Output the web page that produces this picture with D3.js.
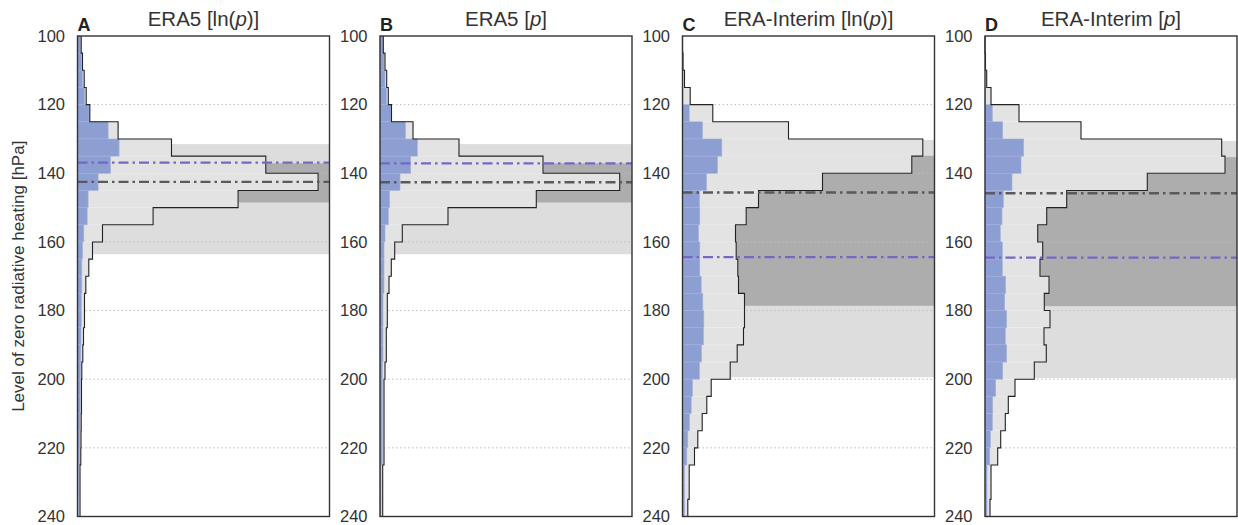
<!DOCTYPE html>
<html>
<head>
<meta charset="utf-8">
<script src="https://cdn.jsdelivr.net/npm/d3@7"></script>
<style>
  body { margin: 0; background: #fff; }
  svg { display: block; font-family: "Liberation Sans", Arial, sans-serif; }
</style>
</head>
<body>
<svg id="chart" width="1238" height="525"></svg>
<script>
// bin edges (hPa), 5 hPa bins from 100 to 240
const binStarts = d3.range(100, 240, 5);
const yTicks = [100, 120, 140, 160, 180, 200, 220, 240];

const panelLetters = ['A', 'B', 'C', 'D'];
const titleNames = ['ERA5', 'ERA5', 'ERA-Interim', 'ERA-Interim'];
const titleVerticals = ['ln', '', 'ln', ''];

// histogram of all levels (grey, outlined), arbitrary units
const histA = [3.7, 5, 6.7, 8.7, 12.3, 40.6, 94, 188.3, 240.6, 160.6, 75.6, 25, 15, 11.3, 8.3, 7, 7, 6, 5.3, 4.3, 4, 4, 3.7, 3.5, 3.3, 2.5, 2.5, 2.5];
const histB = [3.3, 5, 6.7, 8.3, 11.5, 33, 79, 163, 239.7, 156.3, 68, 22.3, 14.7, 11.3, 9, 7.3, 7.3, 6.3, 6.3, 5, 4, 4, 4, 4, 4, 2.7, 2.7, 2.7];
const histC = [0, 0.5, 2, 7.7, 30.3, 106, 240.3, 229.3, 140, 76, 63.7, 53, 53.7, 55.3, 56, 62, 62, 61, 54.7, 47.7, 28.7, 24.3, 19.7, 15.3, 12, 6.7, 6.7, 5.3];
const histD = [0, 0.5, 1.7, 6, 34, 96, 236.7, 240, 162.3, 81.7, 61.7, 52.7, 57.7, 55, 64, 59.3, 65, 59, 61.3, 49.3, 30, 23.3, 20.3, 15.7, 12.7, 6, 6, 5];

// subset histogram (blue)
const blueA = [3, 4, 5, 7, 11.5, 30.6, 41.6, 33, 20.6, 10.6, 9.7, 6.3, 5, 4.3, 4.3, 3.7, 3.7, 3.5, 3.3, 3, 2.7, 2.7, 2.5, 2.3, 2, 1, 1, 0.8];
const blueB = [3, 4, 5, 6.5, 11, 25.5, 37.3, 30.7, 20, 9.7, 8.3, 5, 4, 4, 4, 3, 3, 3, 3, 2.3, 2.3, 2.3, 2.3, 2.3, 2.3, 1, 1, 1];
const blueC = [0, 0, 0, 0.5, 6.7, 20, 39.3, 35, 24, 17, 17.3, 16, 17.3, 17.3, 18.7, 20.3, 21.3, 21, 19, 17, 10, 8.7, 7, 5.3, 4.3, 2, 2, 2];
const blueD = [0, 0, 0, 0.5, 7.3, 17.7, 38.7, 36, 27, 18.3, 17, 15.3, 17.3, 17.3, 20.7, 19.7, 21.7, 20.3, 21.7, 17.7, 10.7, 7.7, 7.3, 5.3, 4.7, 2, 2, 2];

// ranges (hPa): outer band, inner band, and the two mean levels
const outerRange = [[131.5, 163.6], [131.5, 163.6], [130.3, 199.4], [130.6, 199.7]];
const innerRange = [[137.1, 148.5], [137.1, 148.5], [134.9, 178.6], [135.3, 178.7]];
const greyLevel = [142.5, 142.6, 145.6, 145.8];
const blueLevel = [136.9, 137.1, 164.4, 164.6];

const hists = [histA, histB, histC, histD];
const blues = [blueA, blueB, blueC, blueD];

const svg = d3.select('#chart');
const plotW = 252, pitch = 302.5, left0 = 77.5;
const yTop = 36, yBottom = 516.5;

const y = d3.scaleLinear().domain([100, 240]).range([yTop, yBottom]);

svg.append('text')
  .attr('transform', `translate(24,${(yTop + yBottom) / 2 + 0}) rotate(-90)`)
  .attr('text-anchor', 'middle')
  .attr('font-size', 17)
  .attr('fill', '#333')
  .text('Level of zero radiative heating [hPa]');

for (let i = 0; i < 4; i++) {
  const x0 = left0 + i * pitch;
  const x = d3.scaleLinear().domain([0, 252]).range([x0, x0 + plotW]);
  const g = svg.append('g');
  const hist = hists[i], blue = blues[i];

  // bands
  g.append('rect')
    .attr('x', x0).attr('width', plotW)
    .attr('y', y(outerRange[i][0]))
    .attr('height', y(outerRange[i][1]) - y(outerRange[i][0]))
    .attr('fill', '#dddddd');
  g.append('rect')
    .attr('x', x0).attr('width', plotW)
    .attr('y', y(innerRange[i][0]))
    .attr('height', y(innerRange[i][1]) - y(innerRange[i][0]))
    .attr('fill', '#adadad');

  // dotted grid
  g.selectAll('.grid')
    .data(yTicks.slice(1, -1))
    .enter().append('line')
    .attr('x1', x0).attr('x2', x0 + plotW)
    .attr('y1', d => y(d)).attr('y2', d => y(d))
    .attr('stroke', '#bdbdbd')
    .attr('stroke-width', 1)
    .attr('stroke-dasharray', '1.5,2.5');

  // grey histogram bars
  g.selectAll('.hbar')
    .data(binStarts)
    .enter().append('rect')
    .attr('x', x0)
    .attr('y', d => y(d))
    .attr('width', (d, j) => x(hist[j]) - x0)
    .attr('height', d => y(d + 5) - y(d))
    .attr('fill', '#e3e3e3')
    .attr('stroke', '#ededed')
    .attr('stroke-width', 0.6);

  // blue bars
  g.selectAll('.bbar')
    .data(binStarts)
    .enter().append('rect')
    .attr('x', x0)
    .attr('y', d => y(d))
    .attr('width', (d, j) => x(blue[j]) - x0)
    .attr('height', d => y(d + 5) - y(d))
    .attr('fill', '#8d9ed3')
    .attr('stroke', '#a3b1dc')
    .attr('stroke-width', 0.6);

  // step outline
  const pts = [];
  binStarts.forEach((b, j) => {
    pts.push([hist[j], b]);
    pts.push([hist[j], b + 5]);
  });
  const line = d3.line().x(d => x(d[0])).y(d => y(d[1]));
  g.append('path')
    .attr('d', line(pts))
    .attr('fill', 'none')
    .attr('stroke', '#222')
    .attr('stroke-width', 1.1);

  // mean levels
  g.append('line')
    .attr('x1', x0).attr('x2', x0 + plotW)
    .attr('y1', y(greyLevel[i])).attr('y2', y(greyLevel[i]))
    .attr('stroke', '#5a5a5a').attr('stroke-width', 2.4)
    .attr('stroke-dasharray', '10,4,2.5,4');
  g.append('line')
    .attr('x1', x0).attr('x2', x0 + plotW)
    .attr('y1', y(blueLevel[i])).attr('y2', y(blueLevel[i]))
    .attr('stroke', '#7369c4').attr('stroke-width', 2.2)
    .attr('stroke-dasharray', '10,4,2.5,4');

  // frame
  g.append('rect')
    .attr('x', x0).attr('y', yTop)
    .attr('width', plotW).attr('height', yBottom - yTop)
    .attr('fill', 'none')
    .attr('stroke', '#333')
    .attr('stroke-width', 1.4);

  // y axis labels, no tick marks
  const axis = d3.axisLeft(y).tickValues(yTicks).tickSize(0).tickPadding(12.5);
  const ax = g.append('g').attr('transform', `translate(${x0},0)`).call(axis);
  ax.select('.domain').remove();
  ax.selectAll('text')
    .attr('font-family', '"Liberation Sans", Arial, sans-serif')
    .attr('font-size', 16.5).attr('fill', '#333');

  // letter + title
  g.append('text')
    .attr('x', x0).attr('y', 31)
    .attr('font-size', 18).attr('font-weight', 'bold').attr('fill', '#222')
    .text(panelLetters[i]);
  const t = g.append('text')
    .attr('x', x0 + plotW / 2).attr('y', 25.5)
    .attr('text-anchor', 'middle')
    .attr('font-size', 20.5).attr('fill', '#333');
  t.append('tspan').text(titleNames[i] + ' [' + (titleVerticals[i] ? titleVerticals[i] + '(' : ''));
  t.append('tspan').attr('font-style', 'italic').text('p');
  t.append('tspan').text(titleVerticals[i] ? ')]' : ']');
}
</script>
</body>
</html>
